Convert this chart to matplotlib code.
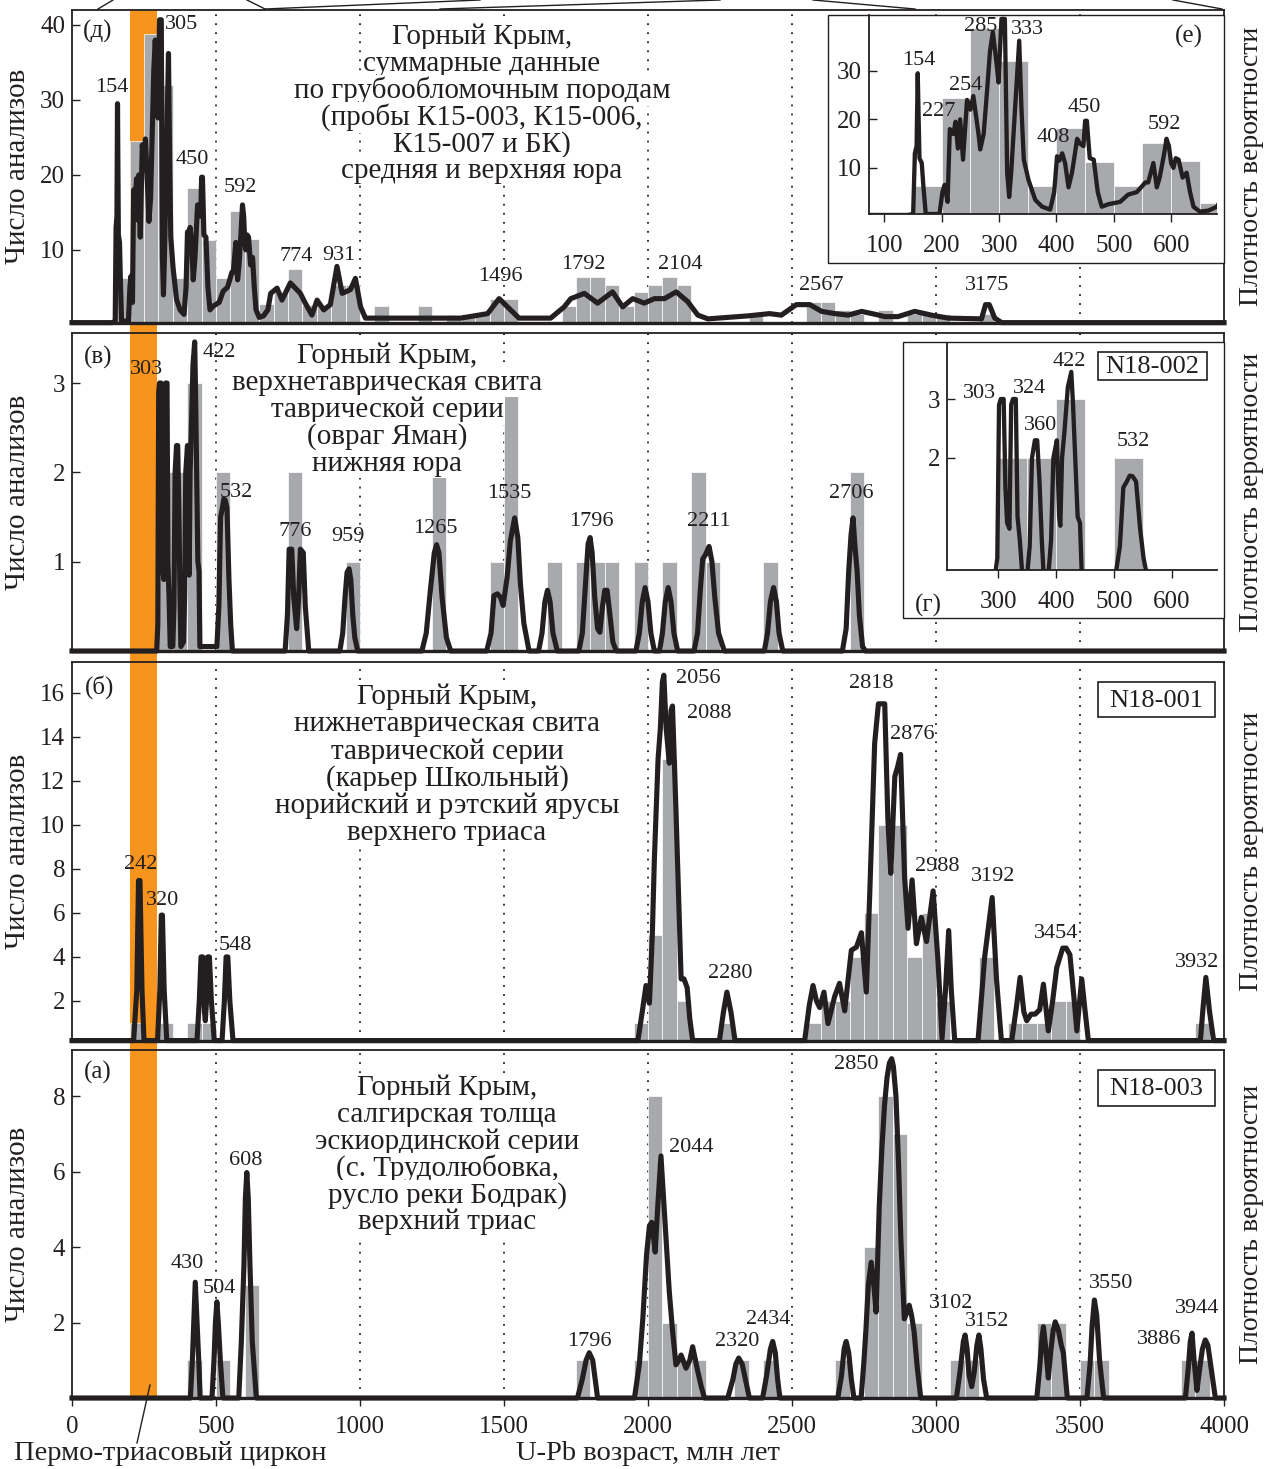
import numpy as np
import matplotlib
matplotlib.use("Agg")
import matplotlib.pyplot as plt
import matplotlib.transforms as mtransforms
from matplotlib.patches import Rectangle
from matplotlib.lines import Line2D

plt.rcParams['font.family'] = ['Liberation Serif', 'DejaVu Serif']

W, H = 1276, 1469
GRAY = '#a7a9ac'
INK = '#231f20'
ORANGE = '#f7941d'
BIN = 50

# ---------------- (д) summary, coarse clastic rocks ----------------
d_bins = [150, 200, 250, 300, 350, 400, 450, 500, 550, 600, 650, 700, 750, 800,
          850, 900, 950, 1050, 1200, 1300, 1350, 1400, 1450, 1500, 1700, 1750,
          1800, 1850, 1900, 1950, 2000, 2050, 2100, 2350, 2550, 2600, 2650,
          2700, 2800, 2900, 2950, 3000, 3150]
d_counts = [6.2, 24.5, 38.8, 32, 6.2, 18.2, 11.3, 6.2, 15.2, 11.5, 2.8, 4.4, 7.5, 2.7,
            2.7, 5.3, 5.3, 2.5, 2.5, 1.3, 1.5, 1.5, 3.4, 3.4, 2.5, 6.4,
            6.4, 5.3, 2.5, 4.4, 5.3, 6.4, 5.3, 1.3, 3, 3, 2,
            1.5, 2, 1.5, 1.5, 1.5, 1.5]
d_curve = [
    (0, 0.3), (140, 0.3), (150, 0.5), (153, 13), (156, 14.5), (158, 29.5), (161, 12),
    (165, 11), (168, 6), (172, 0.5), (196, 0.5), (201, 5), (205, 6.5), (210, 3),
    (214, 18), (220, 17), (224, 19.5), (228, 14), (232, 20), (237, 11.7), (244, 24),
    (250, 22), (255, 24.8), (264, 17), (267, 13.8), (273, 17), (279, 26), (284, 34),
    (289, 38), (296, 31), (299, 27.6), (304, 40.7), (310, 40.7), (314, 9), (317.5, 4),
    (321, 9), (327, 20.7), (335, 36.2), (339, 22), (343, 11.7), (351, 7.6), (363, 3.4),
    (375, 2), (389, 1.4), (396, 5), (401, 12.4), (405, 11.5), (410, 13), (415, 11),
    (421, 6), (427, 9), (431, 12), (436, 16), (441, 15), (447, 14.5), (450, 19.7),
    (453, 19.7), (458, 12), (465, 11.7), (472, 5), (479, 2), (490, 2.5), (511, 3),
    (525, 4.5), (540, 5), (555, 7), (560, 7), (569, 11), (575, 6), (580, 8), (587, 12.4),
    (592, 16), (596, 14.5), (600, 11), (604, 10), (608, 12), (613, 11.7), (620, 8),
    (627, 9), (633, 5), (639, 2), (650, 1), (665, 1.2), (680, 2), (690, 4.2), (712, 4.9),
    (729, 3.3), (758, 5.6), (793, 4.2), (810, 2.9), (833, 1.3), (851, 3.3), (874, 2),
    (897, 2.7), (920, 7.8), (938, 4.2), (967, 4.7), (984, 6.2), (1002, 2.4), (1019, 0.9),
    (1176, 0.9), (1350, 0.9), (1443, 1.5), (1483, 3.5), (1512, 2.4), (1552, 0.9),
    (1662, 0.9), (1709, 2.4), (1732, 3.5), (1779, 4.2), (1825, 2.9), (1877, 4.4),
    (1912, 2.4), (1947, 3.5), (1987, 2.9), (2022, 3.5), (2057, 3.5), (2098, 4.4),
    (2138, 3.1), (2173, 1.3), (2208, 0.8), (2347, 1.2), (2422, 1.5), (2463, 1.3),
    (2515, 2.7), (2562, 2.7), (2603, 1.8), (2649, 1.5), (2695, 1.3), (2742, 1.8),
    (2790, 1.4), (2822, 1.1), (2868, 1.1), (2926, 1.8), (2984, 1.3), (3042, 0.9),
    (3158, 0.8), (3172, 2.7), (3185, 2.7), (3204, 0.9), (3228, 0.3), (4000, 0.3)]
d_labels = [('154', 138, 31.6), ('305', 382, 40), ('450', 419, 22.1), ('592', 583, 18.3),
            ('774', 777, 9.1), ('931', 925, 9.3), ('1496', 1489, 6.5), ('1792', 1776, 8.0),
            ('2104', 2111, 8.0), ('2567', 2603, 5.3), ('3175', 3176, 5.3)]
e_labels = [('154', 159, 32.1), ('227', 194, 21.7), ('254', 242, 27), ('285', 267, 39.2),
            ('333', 350, 38.6), ('408', 394, 16.2), ('450', 448, 22.4), ('592', 589, 19)]

# ---------------- (в) N18-002 ----------------
v_bins = [300, 350, 400, 500, 750, 950, 1250, 1450, 1500, 1650, 1750, 1800, 1850,
          1950, 2050, 2150, 2200, 2400, 2700]
v_counts = [2, 2, 3, 2, 2, 1, 2, 1, 3, 1, 1, 1, 1, 1, 1, 2, 1, 1, 2]
v_curve = [
    (0, 0), (294, 0), (298, 0.3), (301, 2.9), (304, 3.0), (309, 3.0), (312, 1.5),
    (315, 0.9), (319, 0.8), (322, 2.9), (325, 3.0), (330, 3.0), (333, 1.0), (337, 0.6),
    (341, 0.05), (350, 0.05), (354, 0.5), (358, 2.0), (363, 2.3), (367, 2.3), (371, 1.6),
    (375, 0.6), (378, 0.05), (387, 0.1), (391, 0.6), (395, 2.0), (401, 2.3), (405, 1.0),
    (407, 0.85), (410, 2.0), (414, 2.43), (420, 3.2), (426, 3.46), (429, 2.9), (437, 1.0),
    (441, 0.9), (444, 0.05), (503, 0.05), (510, 0.5), (516, 1.5), (522, 1.6), (527, 1.7),
    (532, 1.69), (538, 1.6), (545, 0.8), (551, 0.3), (557, 0), (740, 0), (748, 0.4),
    (754, 1.14), (763, 1.14), (770, 0.6), (780, 0.25), (787, 0.6), (793, 1.14), (803, 1.1),
    (810, 0.5), (822, 0), (930, 0), (940, 0.2), (948, 0.6), (955, 0.88), (962, 0.92),
    (968, 0.8), (975, 0.4), (982, 0.15), (992, 0), (1215, 0), (1230, 0.2), (1245, 0.7),
    (1258, 1.1), (1266, 1.19), (1274, 1.1), (1285, 0.6), (1300, 0.15), (1315, 0),
    (1440, 0), (1455, 0.2), (1465, 0.62), (1477, 0.64), (1488, 0.6), (1497, 0.51),
    (1511, 0.83), (1522, 1.23), (1537, 1.49), (1548, 1.27), (1557, 0.75), (1569, 0.31),
    (1587, 0), (1620, 0), (1632, 0.2), (1642, 0.55), (1651, 0.68), (1660, 0.55),
    (1670, 0.2), (1685, 0), (1760, 0), (1772, 0.2), (1782, 0.7), (1792, 1.2), (1799, 1.27),
    (1806, 1.1), (1815, 0.6), (1825, 0.25), (1833, 0.21), (1842, 0.5), (1850, 0.68),
    (1858, 0.68), (1868, 0.4), (1878, 0.1), (1890, 0), (1958, 0), (1970, 0.2), (1980, 0.55),
    (1990, 0.71), (2000, 0.55), (2010, 0.2), (2022, 0), (2040, 0), (2050, 0.2), (2060, 0.55),
    (2070, 0.71), (2080, 0.55), (2090, 0.2), (2103, 0), (2160, 0), (2172, 0.2), (2182, 0.7),
    (2190, 1.03), (2200, 1.08), (2212, 1.17), (2222, 1.0), (2232, 0.6), (2245, 0.2),
    (2265, 0), (2404, 0), (2415, 0.2), (2425, 0.55), (2436, 0.71), (2446, 0.55), (2455, 0.2),
    (2468, 0), (2675, 0), (2688, 0.25), (2697, 0.9), (2705, 1.3), (2712, 1.49), (2718, 1.2),
    (2726, 0.9), (2734, 0.4), (2745, 0.05), (2755, 0), (4000, 0)]
v_labels = [('303', 257, 3.15), ('422', 511, 3.34), ('532', 570, 1.77), ('776', 776, 1.34),
            ('959', 957, 1.28), ('1265', 1263, 1.37), ('1535', 1520, 1.76),
            ('1796', 1802, 1.45), ('2211', 2210, 1.45), ('2706', 2706, 1.76)]
g_labels = [('303', 267, 3.1), ('324', 353, 3.17), ('360', 372, 2.55), ('422', 422, 3.63),
            ('532', 534, 2.28)]

# ---------------- (б) N18-001 ----------------
b_bins = [200, 300, 400, 450, 1950, 2000, 2050, 2100, 2250, 2550, 2600, 2650, 2700,
          2750, 2800, 2850, 2900, 2950, 3000, 3150, 3250, 3300, 3350, 3400, 3450, 3900]
b_counts = [1, 1, 1, 1, 1, 5, 13, 2, 1, 1, 2, 2, 4, 6, 10, 10, 4, 6, 2, 4, 1, 1, 1, 2, 2, 1]
b_curve = [
    (0, 0.2), (214, 0.2), (225, 2.5), (231, 7.47), (236, 7.47), (243, 2.5), (250, 0.2),
    (297, 0.2), (305, 2.5), (310, 5.9), (314, 5.9), (320, 2.5), (329, 0.2), (434, 0.2),
    (442, 2.0), (448, 4.0), (454, 4.0), (460, 1.5), (463, 1.1), (467, 2.0), (471, 4.0),
    (477, 4.0), (484, 2.0), (494, 0.2), (521, 0.2), (529, 2.0), (535, 4.0), (541, 4.0),
    (548, 2.0), (559, 0.2), (1965, 0.2), (1980, 1.5), (1993, 2.7), (2005, 1.9), (2015, 5),
    (2022, 8.4), (2035, 13), (2043, 14.4), (2050, 16.5), (2055, 16.8), (2063, 14.4),
    (2074, 12.8), (2080, 15.2), (2085, 15.4), (2097, 10.7), (2108, 6), (2115, 3.0),
    (2125, 3.0), (2136, 2.6), (2145, 1.2), (2155, 0.2), (2248, 0.2), (2262, 1.5),
    (2274, 2.4), (2288, 1.5), (2302, 0.2), (2544, 0.2), (2560, 1.8), (2573, 2.7),
    (2585, 2.0), (2596, 1.7), (2611, 2.4), (2625, 0.97), (2648, 2.2), (2665, 2.8),
    (2683, 1.55), (2695, 3.0), (2706, 4.3), (2724, 4.45), (2741, 5.1), (2758, 2.4),
    (2770, 6.9), (2787, 13.7), (2800, 15.5), (2822, 15.5), (2833, 10.2), (2843, 7.8),
    (2857, 12.2), (2866, 12.6), (2877, 13.2), (2891, 7.6), (2903, 5.3), (2917, 7.5),
    (2932, 4.6), (2949, 5.8), (2967, 4.7), (2990, 7.0), (3007, 3.8), (3021, 0.3),
    (3033, 2.5), (3044, 5.2), (3053, 2.5), (3065, 0.2), (3146, 0.2), (3160, 2.5),
    (3169, 4.0), (3195, 6.7), (3210, 3.0), (3227, 0.2), (3263, 0.2), (3280, 1.8),
    (3292, 3.07), (3305, 1.5), (3315, 1.1), (3330, 1.4), (3344, 1.4), (3360, 1.6),
    (3373, 2.76), (3390, 0.64), (3405, 2.0), (3419, 3.5), (3440, 4.4), (3452, 4.4),
    (3465, 4.1), (3480, 2.0), (3489, 0.64), (3506, 3.0), (3518, 1.5), (3529, 0.2),
    (3918, 0.2), (3928, 1.8), (3937, 3.07), (3950, 1.5), (3964, 0.2), (4000, 0.2)]
b_labels = [('242', 237, 8.2), ('320', 315, 6.56), ('548', 569, 4.5), ('2056', 2173, 16.65),
            ('2088', 2212, 15.06), ('2280', 2287, 3.23), ('2818', 2776, 16.44),
            ('2876', 2918, 14.1), ('2988', 3005, 8.1), ('3192', 3197, 7.65),
            ('3454', 3416, 5.05), ('3932', 3908, 3.75)]

# ---------------- (а) N18-003 ----------------
a_bins = [400, 500, 600, 1750, 1950, 2000, 2050, 2100, 2150, 2300, 2400, 2650, 2750,
          2800, 2850, 2900, 3050, 3100, 3350, 3400, 3500, 3550, 3850, 3900]
a_counts = [1, 1, 3, 1, 1, 8, 2, 1, 1, 1, 1, 1, 4, 8, 7, 2, 1, 1, 2, 2, 1, 1, 1, 1]
a_curve = [
    (0, 0), (411, 0), (418, 1.0), (424, 2.2), (428, 3.07), (433, 2.2), (440, 1.0), (445, 0),
    (486, 0), (493, 1.0), (498, 2.0), (503, 2.55), (508, 2.0), (515, 1.0), (524, 0),
    (579, 0), (588, 1.5), (597, 3.5), (602, 5.3), (607, 5.98), (612, 5.3), (618, 3.5),
    (626, 1.5), (640, 0), (1755, 0), (1772, 0.5), (1785, 1.0), (1796, 1.2), (1808, 1.0),
    (1818, 0.4), (1825, 0), (1953, 0), (1970, 0.9), (1982, 2.1), (1995, 3.8), (2005, 4.57),
    (2013, 4.66), (2020, 4.2), (2025, 3.87), (2034, 5.1), (2045, 6.42), (2057, 4.92),
    (2066, 3.8), (2074, 2.81), (2085, 1.8), (2097, 0.88), (2107, 1.0), (2115, 1.14),
    (2132, 0.79), (2145, 1.0), (2155, 1.36), (2165, 1.0), (2173, 0.7), (2185, 0.3),
    (2196, 0), (2277, 0), (2295, 0.5), (2305, 0.9), (2315, 1.06), (2327, 0.9), (2338, 0.5),
    (2352, 0), (2398, 0), (2412, 0.6), (2425, 1.3), (2433, 1.5), (2442, 1.2), (2450, 0.5),
    (2458, 0), (2659, 0), (2672, 0.6), (2681, 1.3), (2688, 1.5), (2697, 1.2), (2706, 0.5),
    (2715, 0), (2740, 0), (2750, 1.0), (2757, 1.85), (2765, 3.0), (2775, 3.6), (2784, 3.0),
    (2792, 2.28), (2803, 5.1), (2812, 6.6), (2821, 7.74), (2830, 8.5), (2838, 8.88),
    (2846, 9.0), (2852, 8.8), (2861, 8.0), (2870, 6.2), (2878, 4.22), (2890, 2.1),
    (2900, 2.3), (2907, 2.46), (2915, 2.2), (2924, 1.76), (2935, 0.8), (2947, 0),
    (3071, 0), (3085, 0.8), (3095, 1.5), (3101, 1.67), (3108, 1.3), (3115, 0.6),
    (3124, 0.3), (3133, 0.7), (3142, 1.4), (3149, 1.67), (3156, 1.3), (3165, 0.5),
    (3176, 0), (3350, 0), (3360, 0.8), (3368, 1.6), (3373, 1.89), (3380, 1.4), (3390, 0.53),
    (3398, 1.2), (3407, 1.8), (3414, 2.02), (3425, 1.8), (3435, 1.4), (3442, 1.2),
    (3450, 0.5), (3456, 0), (3524, 0), (3535, 0.9), (3542, 1.9), (3550, 2.6), (3558, 2.2),
    (3568, 1.0), (3582, 0), (3866, 0), (3876, 0.8), (3883, 1.5), (3889, 1.72), (3896, 1.0),
    (3906, 0.2), (3916, 0.8), (3925, 1.3), (3935, 1.54), (3944, 1.4), (3955, 0.8),
    (3970, 0), (4000, 0)]
a_labels = [('430', 399, 3.56), ('504', 513, 2.9), ('608', 603, 6.31), ('1796', 1795, 1.51),
            ('2044', 2150, 6.64), ('2320', 2309, 1.5), ('2434', 2417, 2.09),
            ('2850', 2722, 8.84), ('3102', 3054, 2.5), ('3152', 3176, 2.03),
            ('3550', 3607, 3.05), ('3944', 3908, 2.37), ('3886', 3776, 1.54)]

x_ticks = [0, 500, 1000, 1500, 2000, 2500, 3000, 3500, 4000]
guide_ages = [500, 1000, 1500, 2000, 2500, 3000, 3500]
permo_triassic = (200, 295)

panel_texts = [
    ['Горный Крым,', 'суммарные данные', 'по грубообломочным породам',
     '(пробы К15-003, К15-006,', 'К15-007 и БК)', 'средняя и верхняя юра'],
    ['Горный Крым,', 'верхнетаврическая свита', 'таврической серии',
     '(овраг Яман)', 'нижняя юра'],
    ['Горный Крым,', 'нижнетаврическая свита', 'таврической серии',
     '(карьер Школьный)', 'норийский и рэтский ярусы', 'верхнего триаса'],
    ['Горный Крым,', 'салгирская толща', 'эскиординской серии',
     '(с. Трудолюбовка,', 'русло реки Бодрак)', 'верхний триас'],
]
letters = ['(д)', '(в)', '(б)', '(а)']
samples = [None, 'N18-002', 'N18-001', 'N18-003']


def fx(px):
    return px / W


def fy(py):
    return 1 - py / H


def rect(l, t, r, b):
    return [fx(l), fy(b), (r - l) / W, (b - t) / H]


def draw_data(ax, bins, counts, curve, clip=True, lw=3.7):
    ax.bar(bins, counts, width=BIN, align='edge', color=GRAY,
           edgecolor='white', linewidth=0.5, zorder=2)
    age, pdf = np.array(curve, dtype=float).T
    ax.plot(age, pdf, color=INK, lw=lw, zorder=3, clip_on=clip,
            solid_joinstyle='round')


fig = plt.figure(figsize=(W / 100, H / 100), dpi=100)

# panel layout in pixels: left, top, right, bottom ; y limits ; ticks
layout = [
    dict(box=(72, 10, 1224, 323), ylim=(0.25, 42.0), yticks=[10, 20, 30, 40],
         text=(482, 37, 26.8), letter=(90, 39.1), sbox=None),
    dict(box=(72, 333, 1224, 651), ylim=(0, 3.56), yticks=[1, 2, 3],
         text=(387, 356, 27.0), letter=(90, 3.29), sbox=(1098, 352, 1207, 380)),
    dict(box=(72, 662, 1224, 1041), ylim=(0.18, 17.4), yticks=[2, 4, 6, 8, 10, 12, 14, 16],
         text=(447, 697, 27.2), letter=(94, 16.27), sbox=(1098, 682, 1215, 717)),
    dict(box=(72, 1050, 1224, 1398), ylim=(0, 9.23), yticks=[2, 4, 6, 8],
         text=(447, 1088, 26.8), letter=(90, 8.63), sbox=(1098, 1070, 1215, 1106)),
]
data = [(d_bins, d_counts, d_curve, d_labels),
        (v_bins, v_counts, v_curve, v_labels),
        (b_bins, b_counts, b_curve, b_labels),
        (a_bins, a_counts, a_curve, a_labels)]

axes = []
for i, (lay, (bins, counts, curve, labels)) in enumerate(zip(layout, data)):
    ax = fig.add_axes(rect(*lay['box']))
    ax.set_facecolor('none')
    ax.set_xlim(0, 4000)
    ax.set_ylim(*lay['ylim'])
    for g in guide_ages:
        ax.axvline(g, color=INK, lw=1.3, ls=(0, (1, 4)), zorder=1)
    draw_data(ax, bins, counts, curve, clip=False)
    for s, x, y in labels:
        ax.text(x, y, s, ha='center', va='center', fontsize=16, color=INK, zorder=6)
    lx, ly = lay['letter']
    ax.text(lx, ly, letters[i], ha='center', va='center', fontsize=18, color=INK, zorder=6)
    ax.set_yticks(lay['yticks'])
    ax.tick_params(axis='y', direction='in', length=6, width=1, labelsize=18,
                   pad=5, colors=INK)
    if i == 3:
        ax.set_xticks(x_ticks)
        ax.tick_params(axis='x', direction='out', length=6, width=1, labelsize=18,
                       pad=7, colors=INK)
    else:
        ax.set_xticks([])
    for side in ['left', 'top', 'right']:
        ax.spines[side].set_linewidth(1.3)
        ax.spines[side].set_color(INK)
    ax.spines['bottom'].set_linewidth(2.4)
    ax.spines['bottom'].set_color(INK)

    # panel caption, one white-backed line at a time
    cx, ty, step = lay['text']
    for k, line in enumerate(panel_texts[i]):
        fig.text(fx(cx), fy(ty + k * step), line, ha='center', va='center',
                 fontsize=21, color=INK, zorder=5,
                 bbox=dict(facecolor='white', edgecolor='none', pad=1.0))
    if lay['sbox'] is not None:
        l, t, r, b = lay['sbox']
        fig.add_artist(Rectangle((fx(l), fy(b)), (r - l) / W, (b - t) / H,
                                 transform=fig.transFigure, facecolor='white',
                                 edgecolor=INK, lw=1.2, zorder=5))
        fig.text(fx((l + r) / 2), fy((t + b) / 2 + 1), samples[i], ha='center',
                 va='center', fontsize=19, color=INK, zorder=6)
    top, bot = lay['box'][1], lay['box'][3]
    fig.text(fx(18), fy((top + bot) / 2), 'Число анализов', rotation=90,
             ha='center', va='center', fontsize=21, color=INK)
    fig.text(fx(1252), fy((top + bot) / 2), 'Плотность вероятности', rotation=90,
             ha='center', va='center', fontsize=20, color=INK)
    axes.append(ax)

# Permo-Triassic band across all panels
blend = mtransforms.blended_transform_factory(axes[3].transData, fig.transFigure)
fig.add_artist(Rectangle((permo_triassic[0], fy(1398)),
                         permo_triassic[1] - permo_triassic[0], fy(10) - fy(1398),
                         transform=blend, facecolor=ORANGE, edgecolor='none', zorder=-1))

# inset (е)
fig.add_artist(Rectangle((fx(828), fy(263)), (1224 - 828) / W, (263 - 15) / H,
                         transform=fig.transFigure, facecolor='white',
                         edgecolor=INK, lw=1.0, zorder=1))
ie = fig.add_axes(rect(869, 15, 1217, 214), zorder=2)
ie.set_xlim(73, 680)
ie.set_ylim(0.5, 41.5)
draw_data(ie, d_bins, d_counts, d_curve, lw=3.1)
for s, x, y in e_labels:
    ie.text(x, y, s, ha='center', va='center', fontsize=16, color=INK, zorder=6)
ie.text(631, 37.1, '(е)', ha='center', va='center', fontsize=18, color=INK)
ie.set_xticks([100, 200, 300, 400, 500, 600])
ie.set_yticks([10, 20, 30])

# inset (г)
fig.add_artist(Rectangle((fx(903), fy(618)), (1224 - 903) / W, (618 - 342) / H,
                         transform=fig.transFigure, facecolor='white',
                         edgecolor=INK, lw=1.0, zorder=1))
ig = fig.add_axes(rect(947, 343, 1217, 570), zorder=2)
ig.set_xlim(211, 678)
ig.set_ylim(0.1, 3.95)
draw_data(ig, v_bins, v_counts, v_curve, lw=3.1)
for s, x, y in g_labels:
    ig.text(x, y, s, ha='center', va='center', fontsize=16, color=INK, zorder=6)
ig.set_xticks([300, 400, 500, 600])
ig.set_yticks([2, 3])
fig.text(fx(928), fy(605), '(г)', ha='center', va='center', fontsize=18, color=INK, zorder=3)

for ia in (ie, ig):
    ia.set_facecolor('none')
    ia.spines['top'].set_visible(False)
    ia.spines['right'].set_visible(False)
    for side in ['left', 'bottom']:
        ia.spines[side].set_linewidth(1.3)
        ia.spines[side].set_color(INK)
    ia.tick_params(axis='y', direction='in', length=6, width=1, labelsize=18,
                   pad=5, colors=INK)
    ia.tick_params(axis='x', direction='out', length=6, width=1, labelsize=18,
                   pad=9, colors=INK)

# thin connector lines running off the top edge
for (x0, y0), (x1, y1) in [((98, 9), (113, 0)), ((247, 0), (265, 9)), ((265, 9), (480, 0)),
                           ((440, 9), (720, 0)), ((813, 0), (915, 9)), ((1173, 0), (1222, 9))]:
    fig.add_artist(Line2D([fx(x0), fx(x1)], [fy(y0), fy(y1)], transform=fig.transFigure,
                          color=INK, lw=1.0))

# bottom captions
fig.add_artist(Line2D([fx(150), fx(137)], [fy(1385), fy(1443)], transform=fig.transFigure,
                      color=INK, lw=1.0, zorder=4))
fig.text(fx(170), fy(1453), 'Пермо-триасовый циркон', ha='center', va='center',
         fontsize=20.5, color=INK)
fig.text(fx(648), fy(1453), 'U-Pb возраст, млн лет', ha='center', va='center',
         fontsize=20.5, color=INK)

fig.savefig('out.png', dpi=100, facecolor='white')
